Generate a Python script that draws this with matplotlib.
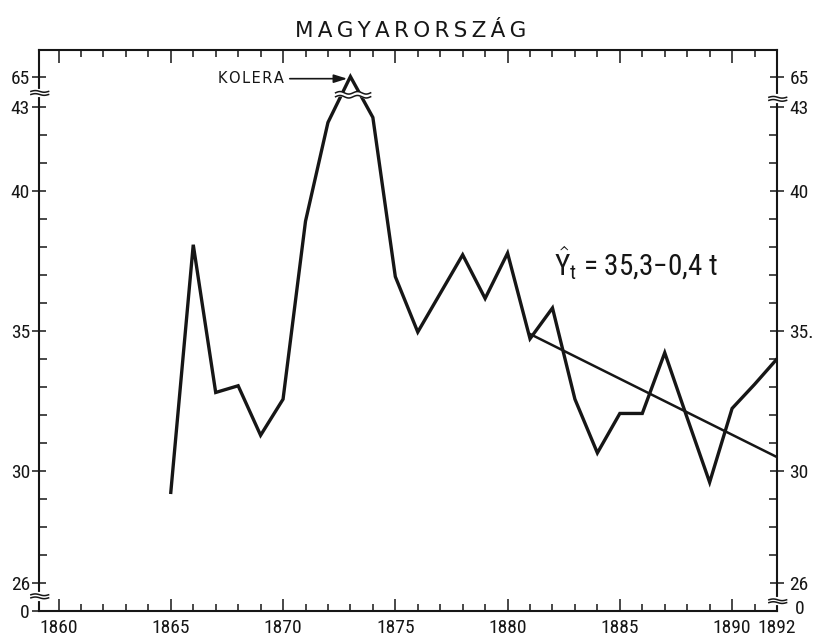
import numpy as np
import matplotlib
matplotlib.use("Agg")
import matplotlib.pyplot as plt
import matplotlib.transforms as mtransforms
from matplotlib import font_manager
from matplotlib.ticker import FixedLocator, FixedFormatter, NullFormatter

# ---- data: crude death rate per 1000, Hungary ----
years = list(range(1865, 1893))
rate = [29.24, 38.09, 32.81, 33.05, 31.28, 32.57, 38.93, 42.46, 65.0, 42.64,
        36.95, 34.97, 36.35, 37.73, 36.17, 37.79, 34.73, 35.83, 32.57, 30.65,
        32.06, 32.06, 34.23, 31.9, 29.6, 32.24, 33.1, 34.01]

# linear trend  Y_t = 35.3 - 0.4 t,  t = year - 1880
trend_a, trend_b = 35.3, -0.4
trend_years = [1881, 1892]

x_major = [1860, 1865, 1870, 1875, 1880, 1885, 1890, 1892]
y_major_left = [0, 26, 30, 35, 40, 43, 65]
y_labels_left = ["0", "26", "30", "35", "40", "43", "65"]
y_major_right = [26, 30, 35, 40, 43, 65]
y_labels_right = ["26", "30", "35.", "40", "43", "65"]

# ---- fonts ----
installed = {f.name for f in font_manager.fontManager.ttflist}
narrow = next((n for n in ["Liberation Sans Narrow", "Roboto Condensed"] if n in installed), None)
plain = "Liberation Sans" if "Liberation Sans" in installed else "DejaVu Sans"
tick_font = narrow or plain
tick_size = 14 if narrow else 12

plt.rcParams["mathtext.fontset"] = "custom"
plt.rcParams["mathtext.rm"] = tick_font
plt.rcParams["mathtext.it"] = tick_font

# ---- broken y axis: 0..26 and 43..65 squeezed ----
knots_v = np.array([-100.0, 0.0, 26.0, 43.0, 65.0, 300.0])
knots_s = np.array([24.0 - 100.0 / 26.0, 25.0, 26.0, 43.0, 44.1, 44.1 + 235 * 0.05])


def fwd(v):
    return np.interp(v, knots_v, knots_s)


def inv(s):
    return np.interp(s, knots_s, knots_v)


fig = plt.figure(figsize=(8.16, 6.38), dpi=100)
ax = fig.add_axes([39 / 816, 1 - 611 / 638, 738 / 816, 561 / 638])
ax.set_yscale("function", functions=(fwd, inv))
ax.set_xlim(1859.13, 1892.0)
ax.set_ylim(0, inv(45.05))

ink = "#161616"

# main series
ax.plot(years, rate, color=ink, lw=2.4, solid_joinstyle="miter", zorder=3)

# trend line
ty = [trend_a + trend_b * (y - 1880) for y in trend_years]
ax.plot(trend_years, ty, color=ink, lw=1.8, zorder=3)

# break in the series at the cholera peak
xw = np.linspace(1872.34, 1873.9, 60)
wave = 0.045 * np.sin((xw - xw[0]) / (xw[-1] - xw[0]) * 4 * np.pi)
lo = 43.38 + wave
hi = 43.52 + wave
ax.fill_between(xw, inv(lo - 0.02), inv(hi + 0.02), color="white", lw=0, zorder=4)
ax.plot(xw, inv(lo), color=ink, lw=1.1, zorder=5)
ax.plot(xw, inv(hi), color=ink, lw=1.1, zorder=5)

# break marks on the spines
blend = mtransforms.blended_transform_factory(ax.transAxes, ax.transData)


def spine_break(xa, s1, s2):
    ax.plot([xa, xa], [inv(s1 - 0.03), inv(s2 + 0.03)], color="white", lw=3,
            transform=blend, clip_on=False, zorder=6)
    xs = np.linspace(xa - 0.011, xa + 0.013, 20)
    w = 0.03 * np.sin((xs - xs[0]) / (xs[-1] - xs[0]) * 2 * np.pi)
    for s in (s1, s2):
        ax.plot(xs, inv(s + w), color=ink, lw=1.1, transform=blend,
                clip_on=False, zorder=7)


spine_break(0.0, 43.46, 43.57)
spine_break(0.0, 25.47, 25.58)
spine_break(1.0, 43.25, 43.36)
spine_break(1.0, 25.30, 25.40)

# cholera label
ax.text(1870.04, 63.5, "K\u200aO\u200aL\u200aE\u200aR\u200aA", ha="right", va="center",
        fontsize=10.5, family=["DejaVu Sans"], color=ink)
ax.annotate("", xy=(1872.86, 63.5), xytext=(1870.3, 63.5),
            arrowprops=dict(arrowstyle="-|>,head_length=0.8,head_width=0.25",
                            color=ink, lw=1.2, shrinkA=0, shrinkB=0))

# trend equation
ax.text(1882.05, 37.0, r"$\hat{\mathrm{Y}}_{\mathrm{t}}$" + " = 35,3\u22120,4 t",
        ha="left", va="baseline", fontsize=21, family=tick_font, color=ink)

# title
fig.text(411 / 816, 1 - 31 / 638, "\u2009".join("MAGYARORSZÁG"), ha="center", va="center",
         fontsize=15.5, family=["DejaVu Sans"], color=ink)

# ---- axes styling ----
for sp in ax.spines.values():
    sp.set_linewidth(1.5)
    sp.set_color(ink)

ax.xaxis.set_major_locator(FixedLocator(x_major))
ax.xaxis.set_major_formatter(FixedFormatter([str(v) for v in x_major]))
ax.xaxis.set_minor_locator(FixedLocator(list(range(1860, 1893))))
ax.tick_params(axis="x", which="major", direction="in", length=9, width=1.1,
               top=True, bottom=True, pad=6, color=ink)
ax.tick_params(axis="x", which="minor", direction="in", length=5, width=1.1,
               top=True, bottom=True, color=ink)

y_minor = [v for v in range(26, 44) if v not in y_major_left]
ax.yaxis.set_major_locator(FixedLocator(y_major_left))
ax.yaxis.set_major_formatter(FixedFormatter(y_labels_left))
ax.yaxis.set_minor_locator(FixedLocator(y_minor))
ax.yaxis.set_minor_formatter(NullFormatter())
ax.tick_params(axis="y", which="major", direction="inout", length=10, width=1.1,
               left=True, right=False, pad=1.5, color=ink)
ax.tick_params(axis="y", which="minor", direction="in", length=6, width=1.1,
               left=True, right=True, color=ink)

rax = ax.secondary_yaxis("right", functions=(lambda v: v, lambda v: v))
rax.set_yscale("function", functions=(fwd, inv))
rax.yaxis.set_major_locator(FixedLocator(y_major_right))
rax.yaxis.set_major_formatter(FixedFormatter(y_labels_right))
rax.tick_params(axis="y", which="major", direction="inout", length=10, width=1.1,
                pad=4, color=ink)
rax.spines["right"].set_visible(False)

# zero at the lower right corner, lifted clear of the year label
zero = ax.text(1.0, 0.0, "0", ha="left", va="center",
               fontsize=tick_size, family=tick_font, color=ink)
zero.set_transform(ax.transAxes + mtransforms.ScaledTranslation(
    18 / 100, 2 / 100, fig.dpi_scale_trans))

for lab in ax.get_xticklabels() + ax.get_yticklabels() + rax.get_yticklabels():
    lab.set_fontfamily(tick_font)
    lab.set_fontsize(tick_size)
    lab.set_color(ink)

fig.savefig("out.png", dpi=100, facecolor="white")
